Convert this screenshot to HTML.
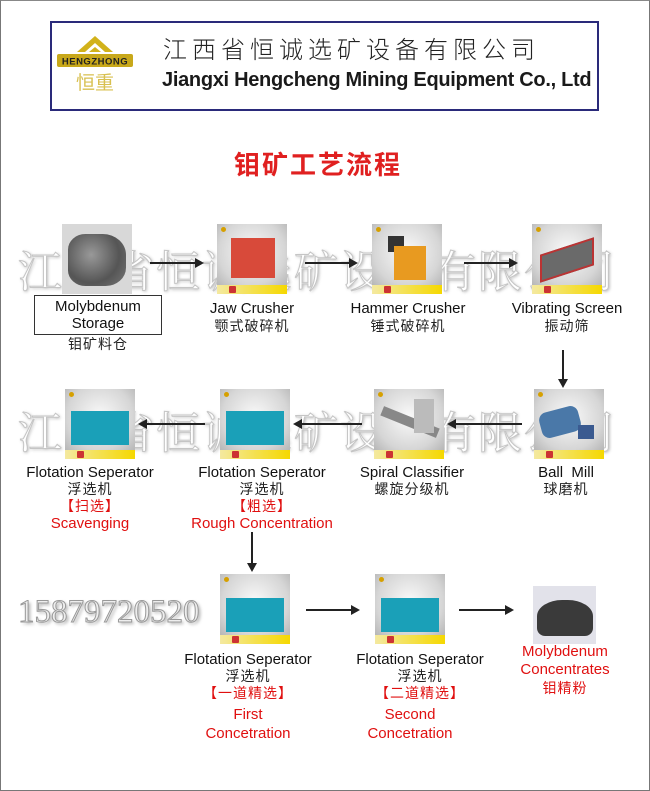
<!DOCTYPE html>
<html><head><meta charset="utf-8">
<style>
*{margin:0;padding:0;box-sizing:border-box}
body{width:650px;height:791px;background:#fff;position:relative;overflow:hidden;font-family:"Liberation Sans","Noto Sans CJK SC",sans-serif}
.frame{position:absolute;left:0;top:0;width:650px;height:791px;border:1px solid #777;border-top:1px solid #888}
.abs{position:absolute}
.lbl{position:absolute;text-align:center;white-space:nowrap;font-size:15px;color:#111;line-height:17px}
.cn{font-size:14px;color:#222;letter-spacing:1px}
.red{color:#e01010}
.img{position:absolute;width:70px;height:70px;background:radial-gradient(circle at 50% 40%,#fafafa 0%,#d6d6d6 60%,#a8a8a8 100%);overflow:hidden}
.img .strip{position:absolute;left:0;bottom:0;width:100%;height:9px;background:linear-gradient(90deg,#f4e9a0,#f5d800)}
.img .strip:before{content:"";position:absolute;left:12px;top:1px;width:7px;height:7px;background:#c33;border-radius:1px}
.img .logo{position:absolute;left:4px;top:3px;width:5px;height:5px;border-radius:50%;background:#d6a000}
.wm{position:absolute;font-family:"Liberation Serif","Noto Serif CJK SC",serif;font-size:44px;color:#fff;-webkit-text-stroke:1px #bbb;text-shadow:1px 1px 3px #999;letter-spacing:2px;white-space:nowrap;opacity:.85}
.arr{position:absolute;height:2px;background:#222}
.arr.r:after{content:"";position:absolute;right:-2px;top:-4px;border-left:9px solid #222;border-top:5px solid transparent;border-bottom:5px solid transparent}
.arr.l:after{content:"";position:absolute;left:-2px;top:-4px;border-right:9px solid #222;border-top:5px solid transparent;border-bottom:5px solid transparent}
.varr{position:absolute;width:2px;background:#222}
.varr:after{content:"";position:absolute;left:-4px;bottom:-2px;border-top:9px solid #222;border-left:5px solid transparent;border-right:5px solid transparent}
</style></head><body>
<div class="frame"></div>

<!-- header -->
<div class="abs" style="left:50px;top:21px;width:549px;height:90px;border:2px solid #2a2a7a;background:#fff"></div>
<svg class="abs" style="left:55px;top:30px" width="80" height="70">
<polygon points="40,6 22,22 30,22 40,13 50,22 58,22" fill="#d2b21a"/>
<polygon points="34,22 40,17 46,22" fill="#d2b21a"/>
<rect x="2" y="24" width="76" height="13" rx="2" fill="#c8a81a"/>
<text x="40" y="34.5" font-size="9.5" font-weight="bold" fill="#222" text-anchor="middle" font-family="Liberation Sans" letter-spacing="0.5">HENGZHONG</text>
<text x="40" y="59" font-size="19" fill="#d8c050" text-anchor="middle" font-family="Noto Sans CJK SC">恒重</text>
</svg>
<div class="abs" style="left:163px;top:33px;font-size:24px;letter-spacing:5px;color:#222;font-family:'Noto Sans CJK SC',sans-serif;font-weight:300;line-height:30px">江西省恒诚选矿设备有限公司</div>
<div class="abs" style="left:162px;top:67px;font-size:20px;font-weight:bold;color:#1a1a1a;line-height:26px;letter-spacing:-0.3px">Jiangxi Hengcheng Mining Equipment Co., Ltd</div>

<div class="abs" style="left:0;top:145px;width:636px;text-align:center;font-size:26px;font-weight:bold;color:#e02020;letter-spacing:2px;font-family:'Noto Sans CJK SC',sans-serif">钼矿工艺流程</div>

<!-- watermarks -->
<div class="wm" style="left:18px;top:236px">江西省恒诚选矿设备有限公司</div>
<div class="wm" style="left:18px;top:397px">江西省恒诚选矿设备有限公司</div>
<div class="abs" style="left:18px;top:594px;font-family:'Liberation Serif',serif;font-size:33px;color:#eee;-webkit-text-stroke:1px #999;text-shadow:2px 2px 3px #aaa">15879720520</div>

<!-- row1 images -->
<div class="img" style="left:62px;top:224px;background:#d8d8d8"><div class="abs" style="left:6px;top:10px;width:58px;height:52px;background:radial-gradient(circle at 40% 40%,#999,#555 60%,#777);border-radius:30% 40% 35% 30%"></div></div>
<div class="img" style="left:217px;top:224px"><div class="logo"></div><div class="abs" style="left:14px;top:14px;width:44px;height:40px;background:#d84a3a"></div><div class="strip"></div></div>
<div class="img" style="left:372px;top:224px"><div class="logo"></div><div class="abs" style="left:16px;top:12px;width:16px;height:16px;background:#333"></div><div class="abs" style="left:22px;top:22px;width:32px;height:34px;background:#e89a20"></div><div class="strip"></div></div>
<div class="img" style="left:532px;top:224px"><div class="logo"></div><div class="abs" style="left:8px;top:22px;width:54px;height:28px;background:#6a6a6a;transform:skewY(-18deg);border:2px solid #b33"></div><div class="strip"></div></div>

<div class="abs" style="left:34px;top:295px;width:128px;height:40px;border:1px solid #333"></div>
<div class="lbl" style="left:34px;top:298px;width:128px">Molybdenum<br>Storage</div>
<div class="lbl cn" style="left:34px;top:336px;width:128px">钼矿料仓</div>
<div class="lbl" style="left:192px;top:300px;width:120px">Jaw Crusher</div>
<div class="lbl cn" style="left:192px;top:318px;width:120px">颚式破碎机</div>
<div class="lbl" style="left:338px;top:300px;width:140px">Hammer Crusher</div>
<div class="lbl cn" style="left:338px;top:318px;width:140px">锤式破碎机</div>
<div class="lbl" style="left:497px;top:300px;width:140px">Vibrating Screen</div>
<div class="lbl cn" style="left:497px;top:318px;width:140px">振动筛</div>

<div class="arr r" style="left:150px;top:262px;width:52px"></div>
<div class="arr r" style="left:305px;top:262px;width:51px"></div>
<div class="arr r" style="left:464px;top:262px;width:52px"></div>
<div class="varr" style="left:562px;top:350px;height:36px"></div>

<!-- row2 -->
<div class="img" style="left:65px;top:389px"><div class="logo"></div><div class="abs" style="left:6px;top:22px;width:58px;height:34px;background:#1aa0b8"></div><div class="strip"></div></div>
<div class="img" style="left:220px;top:389px"><div class="logo"></div><div class="abs" style="left:6px;top:22px;width:58px;height:34px;background:#1aa0b8"></div><div class="strip"></div></div>
<div class="img" style="left:374px;top:389px"><div class="logo"></div><div class="abs" style="left:6px;top:28px;width:60px;height:10px;background:#888;transform:rotate(22deg)"></div><div class="abs" style="left:40px;top:10px;width:20px;height:34px;background:#bbb"></div><div class="strip"></div></div>
<div class="img" style="left:534px;top:389px"><div class="logo"></div><div class="abs" style="left:6px;top:20px;width:40px;height:26px;background:#4a78a8;border-radius:8px;transform:rotate(-15deg)"></div><div class="abs" style="left:44px;top:36px;width:16px;height:14px;background:#3a5a90"></div><div class="strip"></div></div>

<div class="arr l" style="left:449px;top:423px;width:73px"></div>
<div class="arr l" style="left:295px;top:423px;width:67px"></div>
<div class="arr l" style="left:140px;top:423px;width:65px"></div>

<div class="lbl" style="left:10px;top:464px;width:160px">Flotation Seperator</div>
<div class="lbl cn" style="left:10px;top:481px;width:160px">浮选机</div>
<div class="lbl cn red" style="left:10px;top:498px;width:160px">【扫选】</div>
<div class="lbl red" style="left:10px;top:515px;width:160px">Scavenging</div>
<div class="lbl" style="left:182px;top:464px;width:160px">Flotation Seperator</div>
<div class="lbl cn" style="left:182px;top:481px;width:160px">浮选机</div>
<div class="lbl cn red" style="left:182px;top:498px;width:160px">【粗选】</div>
<div class="lbl red" style="left:172px;top:515px;width:180px">Rough Concentration</div>
<div class="lbl" style="left:342px;top:464px;width:140px">Spiral Classifier</div>
<div class="lbl cn" style="left:342px;top:481px;width:140px">螺旋分级机</div>
<div class="lbl" style="left:506px;top:464px;width:120px">Ball&nbsp; Mill</div>
<div class="lbl cn" style="left:506px;top:481px;width:120px">球磨机</div>

<div class="varr" style="left:251px;top:532px;height:38px"></div>

<!-- row3 -->
<div class="img" style="left:220px;top:574px"><div class="logo"></div><div class="abs" style="left:6px;top:24px;width:58px;height:34px;background:#1aa0b8"></div><div class="strip"></div></div>
<div class="img" style="left:375px;top:574px"><div class="logo"></div><div class="abs" style="left:6px;top:24px;width:58px;height:34px;background:#1aa0b8"></div><div class="strip"></div></div>
<div class="abs" style="left:533px;top:586px;width:63px;height:58px;background:#e2e2ea"><div class="abs" style="left:4px;top:14px;width:56px;height:36px;background:#3a3a3a;border-radius:45% 45% 8px 8px"></div></div>

<div class="arr r" style="left:306px;top:609px;width:52px"></div>
<div class="arr r" style="left:459px;top:609px;width:53px"></div>

<div class="lbl" style="left:168px;top:651px;width:160px">Flotation Seperator</div>
<div class="lbl cn" style="left:168px;top:668px;width:160px">浮选机</div>
<div class="lbl cn red" style="left:168px;top:685px;width:160px">【一道精选】</div>
<div class="lbl red" style="left:168px;top:706px;width:160px">First</div>
<div class="lbl red" style="left:168px;top:725px;width:160px">Concetration</div>
<div class="lbl" style="left:340px;top:651px;width:160px">Flotation Seperator</div>
<div class="lbl cn" style="left:340px;top:668px;width:160px">浮选机</div>
<div class="lbl cn red" style="left:340px;top:685px;width:160px">【二道精选】</div>
<div class="lbl red" style="left:330px;top:706px;width:160px">Second</div>
<div class="lbl red" style="left:330px;top:725px;width:160px">Concetration</div>
<div class="lbl red" style="left:500px;top:643px;width:130px">Molybdenum</div>
<div class="lbl red" style="left:500px;top:661px;width:130px">Concentrates</div>
<div class="lbl cn red" style="left:500px;top:680px;width:130px">钼精粉</div>
</body></html>
